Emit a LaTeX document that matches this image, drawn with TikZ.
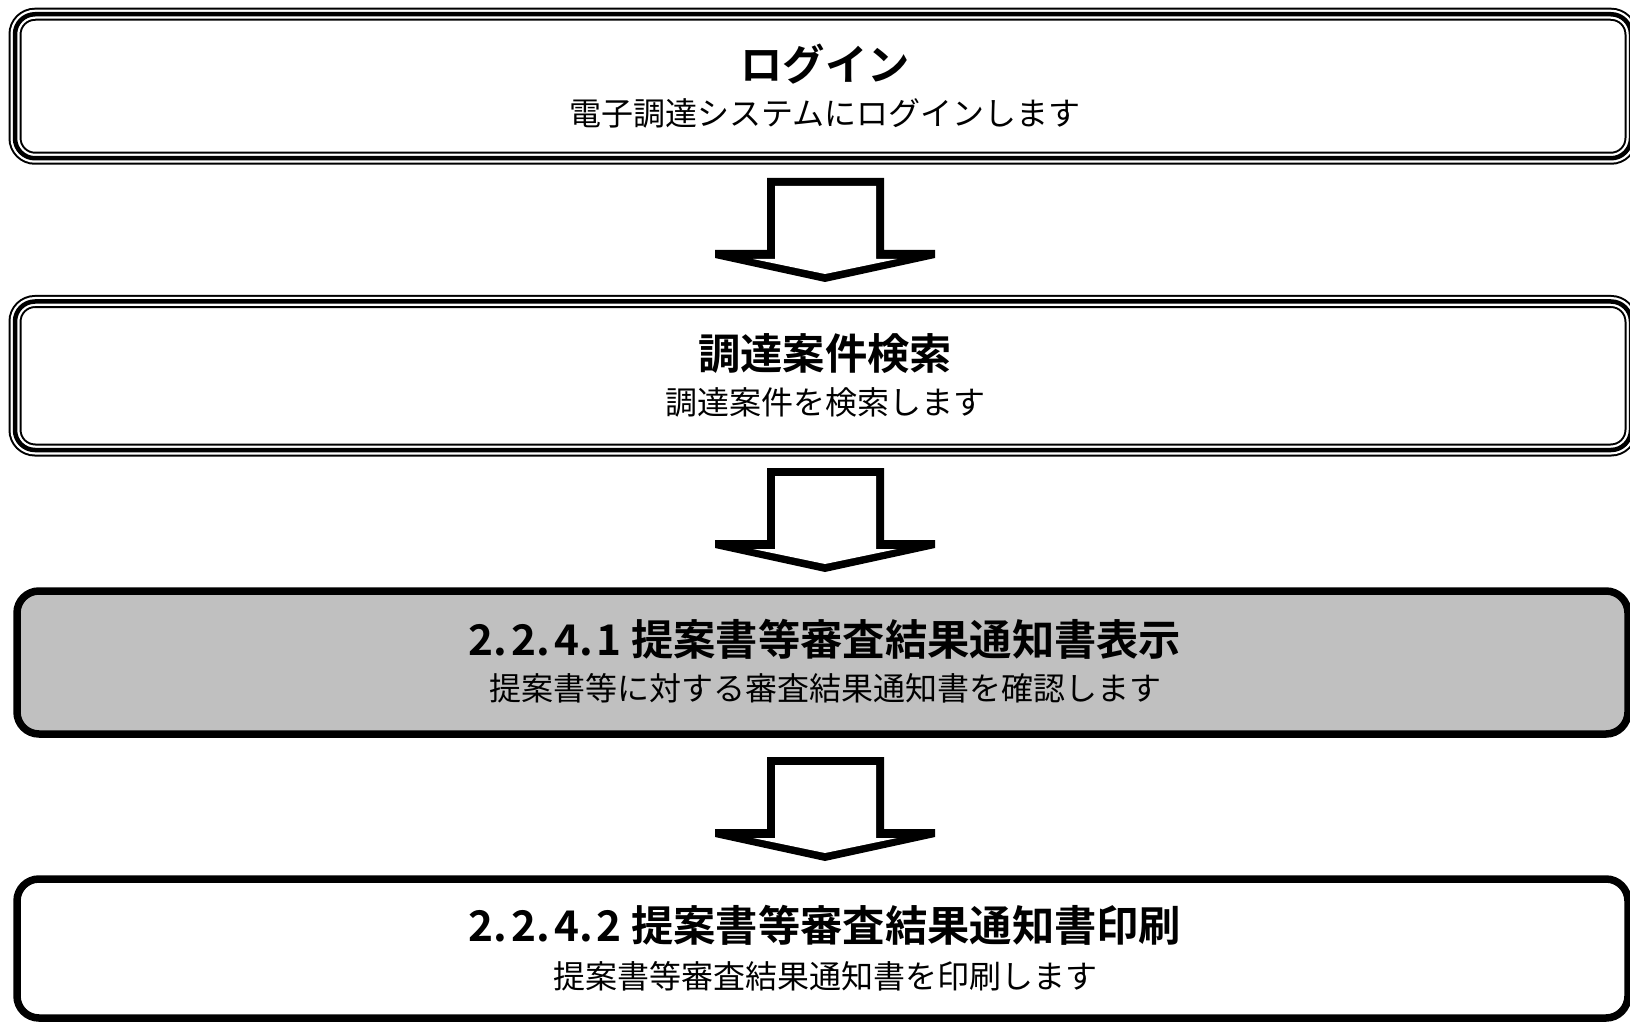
\documentclass[tikz,border=0pt]{standalone}
\usepackage{fontspec}
\setmainfont{Noto Sans CJK JP}[BoldFont={* Bold}]
\definecolor{boxgray}{RGB}{192,192,192}
\tikzset{
  tripbox/.style={draw=black, line width=4.5pt, rounded corners=20pt, inner sep=0pt,
    minimum width=1616pt,
    preaction={draw=black, line width=13pt},
    preaction={draw=white, line width=9pt}},
  solidbox/.style={draw=black, line width=7.5pt, rounded corners=22pt, inner sep=0pt,
    minimum width=1611pt},
  titletext/.style={inner sep=0pt, font=\bfseries\fontsize{42.3}{42.3}\selectfont},
  subtext/.style={inner sep=0pt, font=\fontsize{32}{32}\selectfont},
  downarrow/.pic={
    \fill[black] (-58,0) -- (59,0) -- (59,72) -- (110,72) -- (110,80) -- (0,104)
      -- (-110,80) -- (-110,72) -- (-58,72) -- cycle;
    \fill[white] (-50,8) -- (51,8) -- (51,81) -- (72,81) -- (0,96) -- (-72,81)
      -- (-50,81) -- cycle;
  }
}
\newcommand{\dk}{\kern4pt}
\begin{document}
\begin{tikzpicture}[x=1pt,y=-1pt]
\useasboundingbox (0,0) rectangle (1630,1024);
% boxes
\node[tripbox, minimum height=144pt] (b1) at (823,86.25) {};
\node[tripbox, minimum height=148.5pt] (b2) at (823,375.75) {};
\node[solidbox, fill=boxgray, minimum height=143pt] (b3) at (822.5,662.5) {};
\node[solidbox, fill=white, minimum height=139pt] (b4) at (822.5,948.5) {};
% texts
\node[titletext] (t1) at (825,64.5) {ログイン};
\node[subtext] (s1) at (825,113.5) {電子調達システムにログインします};
\node[titletext] (t2) at (825,353.5) {調達案件検索};
\node[subtext] (s2) at (825,402.5) {調達案件を検索します};
\node[titletext] (t3) at (825,639.5) {2.\dk2.\dk4.\dk1 提案書等審査結果通知書表示};
\node[subtext] (s3) at (825,688.5) {提案書等に対する審査結果通知書を確認します};
\node[titletext] (t4) at (825,925) {2.\dk2.\dk4.\dk2 提案書等審査結果通知書印刷};
\node[subtext] (s4) at (825,976) {提案書等審査結果通知書を印刷します};
% arrows
\coordinate (a1) at (825,178);
\coordinate (a2) at (825,468);
\coordinate (a3) at (825,757);
\pic (p1) at (a1) {downarrow};
\pic (p2) at (a2) {downarrow};
\pic (p3) at (a3) {downarrow};
\end{tikzpicture}
\end{document}
